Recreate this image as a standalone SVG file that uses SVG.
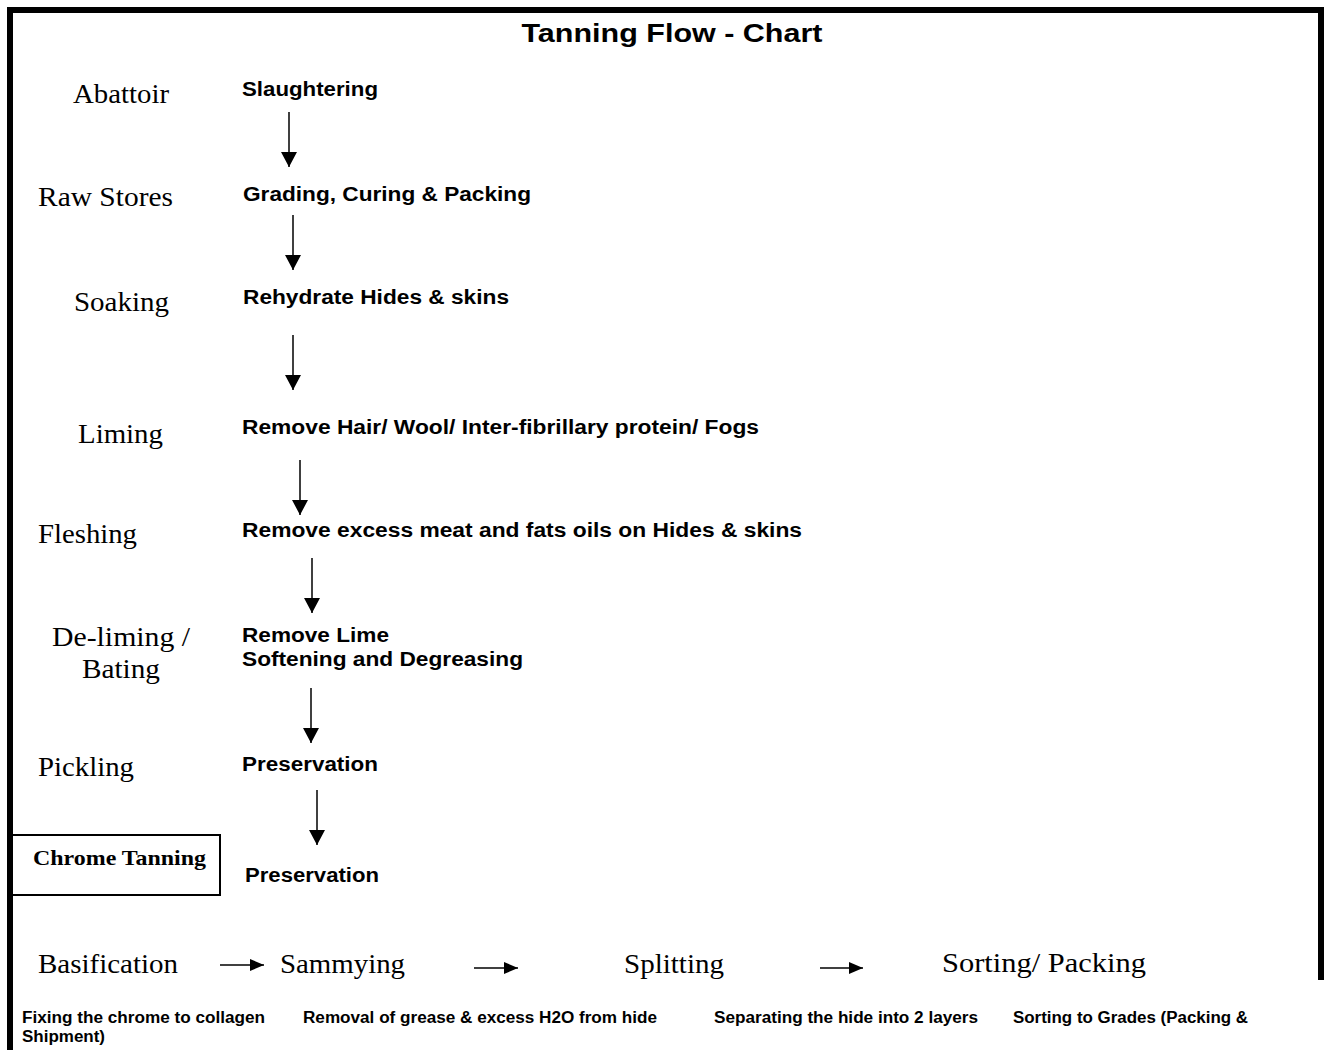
<svg xmlns="http://www.w3.org/2000/svg" width="1329" height="1050" viewBox="0 0 1329 1050">
<defs>
<style>
.stage{font-family:"Liberation Serif","Times New Roman",serif;font-size:28px;fill:#000}
.desc{font-family:"Liberation Sans",Arial,sans-serif;font-weight:bold;font-size:20px;fill:#000}
.small{font-family:"Liberation Sans",Arial,sans-serif;font-weight:bold;font-size:16px;fill:#000}
.conn{stroke:#000;stroke-width:1.5;fill:none}
</style>
<marker id="ah" markerUnits="userSpaceOnUse" markerWidth="16" markerHeight="16" viewBox="0 0 16 16" refX="15" refY="8" orient="auto">
<path d="M0,0 L15,8 L0,16 Z" fill="#000"/>
</marker>
<marker id="ahs" markerUnits="userSpaceOnUse" markerWidth="14" markerHeight="12" viewBox="0 0 14 12" refX="14" refY="6" orient="auto">
<path d="M0,0 L14,6 L0,12 Z" fill="#000"/>
</marker>
</defs>
<rect width="1329" height="1050" fill="#fff"/>
<path d="M10,1050 V10 H1321 V980" stroke="#000" stroke-width="6" fill="none"/>
<text x="672" y="42" text-anchor="middle" font-family="Liberation Sans,Arial,sans-serif" font-weight="bold" font-size="26" textLength="301" lengthAdjust="spacingAndGlyphs">Tanning Flow - Chart</text>

<g id="abattoir"><text class="stage" x="73" y="103" textLength="96" lengthAdjust="spacingAndGlyphs">Abattoir</text></g>
<g id="slaughtering"><text class="desc" x="242" y="96" textLength="136" lengthAdjust="spacingAndGlyphs">Slaughtering</text></g>

<g id="raw-stores"><text class="stage" x="38" y="206" textLength="135" lengthAdjust="spacingAndGlyphs">Raw Stores</text></g>
<g id="grading"><text class="desc" x="243" y="201" textLength="288" lengthAdjust="spacingAndGlyphs">Grading, Curing &amp; Packing</text></g>

<g id="soaking"><text class="stage" x="74" y="311" textLength="95" lengthAdjust="spacingAndGlyphs">Soaking</text></g>
<g id="rehydrate"><text class="desc" x="243" y="304" textLength="266" lengthAdjust="spacingAndGlyphs">Rehydrate Hides &amp; skins</text></g>

<g id="liming"><text class="stage" x="78" y="443" textLength="85" lengthAdjust="spacingAndGlyphs">Liming</text></g>
<g id="remove-hair"><text class="desc" x="242" y="434" textLength="517" lengthAdjust="spacingAndGlyphs">Remove Hair/ Wool/ Inter-fibrillary protein/ Fogs</text></g>

<g id="fleshing"><text class="stage" x="38" y="543" textLength="99" lengthAdjust="spacingAndGlyphs">Fleshing</text></g>
<g id="remove-excess"><text class="desc" x="242" y="537" textLength="560" lengthAdjust="spacingAndGlyphs">Remove excess meat and fats oils on Hides &amp; skins</text></g>

<g id="deliming">
<text class="stage" x="52" y="646" textLength="138" lengthAdjust="spacingAndGlyphs">De-liming /</text>
<text class="stage" x="82" y="678" textLength="78" lengthAdjust="spacingAndGlyphs">Bating</text>
</g>
<g id="remove-lime">
<text class="desc" x="242" y="642" textLength="147" lengthAdjust="spacingAndGlyphs">Remove Lime</text>
<text class="desc" x="242" y="666" textLength="281" lengthAdjust="spacingAndGlyphs">Softening and Degreasing</text>
</g>

<g id="pickling"><text class="stage" x="38" y="776" textLength="96" lengthAdjust="spacingAndGlyphs">Pickling</text></g>
<g id="preservation-1"><text class="desc" x="242" y="771" textLength="136" lengthAdjust="spacingAndGlyphs">Preservation</text></g>

<g id="chrome-tanning">
<rect x="8" y="835" width="212" height="60" fill="none" stroke="#000" stroke-width="2"/>
<text x="33" y="865" font-family="Liberation Serif,Times New Roman,serif" font-weight="bold" font-size="22" textLength="173" lengthAdjust="spacingAndGlyphs">Chrome Tanning</text>
</g>
<g id="preservation-2"><text class="desc" x="245" y="882" textLength="134" lengthAdjust="spacingAndGlyphs">Preservation</text></g>

<g id="basification"><text class="stage" x="38" y="973" textLength="140" lengthAdjust="spacingAndGlyphs">Basification</text></g>
<g id="sammying"><text class="stage" x="280" y="973" textLength="125" lengthAdjust="spacingAndGlyphs">Sammying</text></g>
<g id="splitting"><text class="stage" x="624" y="973" textLength="100" lengthAdjust="spacingAndGlyphs">Splitting</text></g>
<g id="sorting"><text class="stage" x="942" y="972" textLength="204" lengthAdjust="spacingAndGlyphs">Sorting/ Packing</text></g>

<g id="bottom-notes">
<text class="small" x="22" y="1023" textLength="243" lengthAdjust="spacingAndGlyphs">Fixing the chrome to collagen</text>
<text class="small" x="303" y="1023" textLength="354" lengthAdjust="spacingAndGlyphs">Removal of grease &amp; excess H2O from hide</text>
<text class="small" x="714" y="1023" textLength="264" lengthAdjust="spacingAndGlyphs">Separating the hide into 2 layers</text>
<text class="small" x="1013" y="1023" textLength="235" lengthAdjust="spacingAndGlyphs">Sorting to Grades (Packing &amp;</text>
<text class="small" x="22" y="1042" textLength="83" lengthAdjust="spacingAndGlyphs">Shipment)</text>
</g>

<g id="connectors">
<line class="conn" x1="289" y1="112" x2="289" y2="167" marker-end="url(#ah)"/>
<line class="conn" x1="293" y1="215" x2="293" y2="270" marker-end="url(#ah)"/>
<line class="conn" x1="293" y1="335" x2="293" y2="390" marker-end="url(#ah)"/>
<line class="conn" x1="300" y1="460" x2="300" y2="515" marker-end="url(#ah)"/>
<line class="conn" x1="312" y1="558" x2="312" y2="613" marker-end="url(#ah)"/>
<line class="conn" x1="311" y1="688" x2="311" y2="743" marker-end="url(#ah)"/>
<line class="conn" x1="317" y1="790" x2="317" y2="845" marker-end="url(#ah)"/>
<line class="conn" x1="220" y1="965" x2="264" y2="965" marker-end="url(#ahs)"/>
<line class="conn" x1="474" y1="968" x2="518" y2="968" marker-end="url(#ahs)"/>
<line class="conn" x1="820" y1="968" x2="863" y2="968" marker-end="url(#ahs)"/>
</g>
</svg>
